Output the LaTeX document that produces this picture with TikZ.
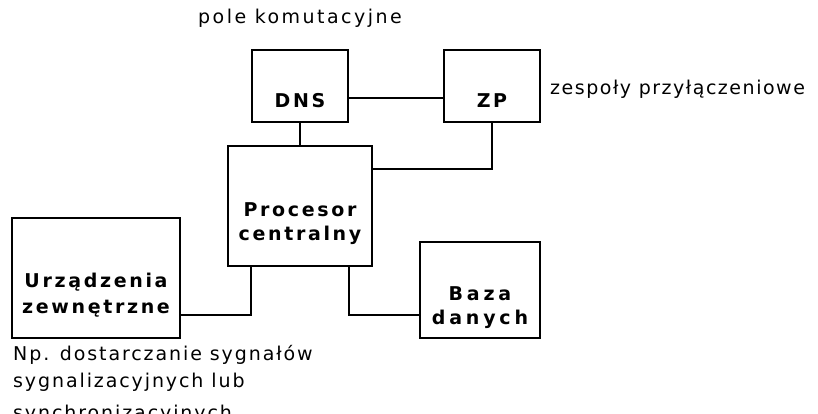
\documentclass[tikz,border=0pt]{standalone}
\usepackage{fontspec}
\setmainfont{DejaVu Sans}
\newfontfamily\notefont{DejaVu Sans}[LetterSpace=10]
\newfontfamily\boxfont{DejaVu Sans}[LetterSpace=14]
\begin{document}
\begin{tikzpicture}[x=1pt,y=-1pt,
  box/.style={draw, line width=1.6pt, inner sep=0pt},
  boxtext/.style={font=\boxfont\bfseries\fontsize{19}{24}\selectfont, align=center, inner sep=0pt, anchor=base},
  note/.style={font=\notefont\fontsize{19}{27}\selectfont, align=left, inner sep=0pt, anchor=base west},
  wire/.style={line width=1.6pt}]
  \useasboundingbox (0,0) rectangle (818,414);

  % switching field blocks
  \node[box, minimum width=96pt, minimum height=72pt] (dns) at (300,86) {};
  \node[box, minimum width=96pt, minimum height=72pt] (zp) at (492,86) {};
  \node[boxtext] (dnst) at (300,108) {DNS};
  \node[boxtext] (zpt) at (492,108) {ZP};

  % central processor (anchor sits on the last baseline)
  \node[box, minimum width=144pt, minimum height=120pt] (proc) at (300,206) {};
  \node[boxtext] (proct) at (300,240) {Procesor\\centralny};

  % peripherals and database
  \node[box, minimum width=168pt, minimum height=120pt] (urz) at (96,278) {};
  \node[boxtext, font=\boxfont\bfseries\fontsize{19}{26}\selectfont] (urzt) at (96,313) {Urządzenia\\zewnętrzne};
  \node[box, minimum width=120pt, minimum height=96pt] (baza) at (480,290) {};
  \node[boxtext, font=\boxfont\bfseries\addfontfeature{LetterSpace=20}\fontsize{19}{24}\selectfont] (bazat) at (480,324) {Baza\\danych};

  % annotations
  \node[note, font=\notefont\addfontfeature{LetterSpace=13}\fontsize{19}{27}\selectfont] (pole) at (198,24) {pole komutacyjne};
  \node[note, font=\notefont\addfontfeature{LetterSpace=8}\fontsize{19}{27}\selectfont] (zesp) at (550,95) {zespoły przyłączeniowe};
  \node[note] (np) at (13,419) {Np. dostarczanie sygnałów\\sygnalizacyjnych lub\\[5pt]synchronizacyjnych};

  % connections
  \draw[wire] ([yshift=-12pt]dns.east) -- ([yshift=-12pt]zp.west);
  \draw[wire] (dns.south) -- (proc.north);
  \draw[wire] (zp.south) |- ([yshift=-24pt]proc.north east);
  \draw[wire] ([xshift=24pt]proc.south west) |- ([yshift=24pt]urz.south east);
  \draw[wire] ([xshift=-24pt]proc.south east) |- ([yshift=24pt]baza.south west);
\end{tikzpicture}
\end{document}
